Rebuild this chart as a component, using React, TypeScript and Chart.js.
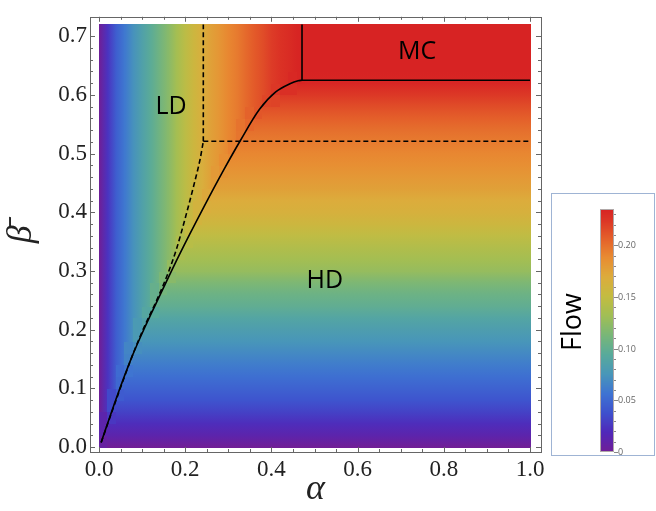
import React, { useEffect, useRef } from "react";
import { Chart, registerables } from "chart.js";

Chart.register(...registerables);

// ---- data ----
const alphaGrid = [0, 0.02, 0.04, 0.06, 0.08, 0.1, 0.12, 0.14, 0.16, 0.18, 0.2, 0.22, 0.24, 0.26, 0.28, 0.3, 0.32, 0.34, 0.36, 0.38, 0.4, 0.42, 0.44, 0.46, 0.48, 0.5, 1.0];
const flowLD = [0, 0.024, 0.045, 0.059, 0.073, 0.085, 0.096, 0.108, 0.12, 0.134, 0.146, 0.157, 0.167, 0.176, 0.183, 0.19, 0.195, 0.202, 0.209, 0.214, 0.221, 0.226, 0.23, 0.234, 0.235, 0.235, 0.235];

const betaGrid = [0, 0.02, 0.04, 0.06, 0.08, 0.1, 0.12, 0.14, 0.16, 0.18, 0.2, 0.22, 0.24, 0.26, 0.28, 0.3, 0.32, 0.34, 0.36, 0.38, 0.4, 0.42, 0.44, 0.46, 0.48, 0.5, 0.52, 0.54, 0.56, 0.58, 0.6, 0.62, 0.64, 0.66, 0.68, 0.7, 0.72];
const flowHD = [0, 0.012, 0.021, 0.031, 0.04, 0.047, 0.054, 0.061, 0.068, 0.075, 0.082, 0.089, 0.099, 0.106, 0.115, 0.127, 0.134, 0.141, 0.148, 0.157, 0.165, 0.169, 0.176, 0.181, 0.186, 0.19, 0.195, 0.2, 0.207, 0.214, 0.223, 0.233, 0.235, 0.235, 0.235, 0.235, 0.235];

const xTicks = [0, 0.2, 0.4, 0.6, 0.8, 1.0];
const yTicks = [0, 0.1, 0.2, 0.3, 0.4, 0.5, 0.6, 0.7];

const solidAlpha = [0.005, 0.04, 0.077, 0.11, 0.139, 0.186, 0.244, 0.29, 0.327, 0.372, 0.41, 0.443, 0.462, 0.471];
const solidBeta = [0.008, 0.083, 0.155, 0.21, 0.255, 0.327, 0.41, 0.473, 0.521, 0.575, 0.605, 0.619, 0.624, 0.625];

const dashAlpha = [0.005, 0.04, 0.077, 0.105, 0.135, 0.16, 0.18, 0.2, 0.22, 0.235, 0.242];
const dashBeta = [0.008, 0.081, 0.155, 0.205, 0.252, 0.296, 0.338, 0.39, 0.446, 0.492, 0.521];

const dashVAlpha = [0.242, 0.242];
const dashVBeta = [0.521, 0.72];

const dashHAlpha = [0.242, 1.0];
const dashHBeta = [0.521, 0.521];

const mcAlpha = [0.471, 0.471, 1.0];
const mcBeta = [0.72, 0.625, 0.625];

const regionNames = ["LD", "MC", "HD"];
const regionAlpha = [0.167, 0.738, 0.524];
const regionBeta = [0.58, 0.673, 0.284];

const FLOW_MAX = 0.235;
const cbTicks = [0, 0.05, 0.1, 0.15, 0.2];
const cbTickLabels = ["0", "0.05", "0.10", "0.15", "0.20"];

// ---- styling ----
const CMAP: number[][] = [
  [0.0, 112, 30, 150],
  [0.08, 80, 40, 185],
  [0.16, 62, 80, 205],
  [0.24, 62, 115, 210],
  [0.32, 72, 150, 185],
  [0.4, 88, 170, 155],
  [0.48, 120, 182, 120],
  [0.56, 160, 190, 85],
  [0.64, 195, 188, 65],
  [0.72, 220, 172, 60],
  [0.8, 232, 140, 50],
  [0.88, 228, 95, 42],
  [0.95, 220, 55, 38],
  [1.0, 215, 35, 35],
];

function colorOf(v: number): string {
  const t = Math.max(0, Math.min(1, v / FLOW_MAX));
  for (let i = 0; i < CMAP.length - 1; i++) {
    const a = CMAP[i], b = CMAP[i + 1];
    if (t <= b[0]) {
      const u = (t - a[0]) / (b[0] - a[0]);
      const r = Math.round(a[1] + (b[1] - a[1]) * u);
      const g = Math.round(a[2] + (b[2] - a[2]) * u);
      const bl = Math.round(a[3] + (b[3] - a[3]) * u);
      return `rgb(${r},${g},${bl})`;
    }
  }
  const l = CMAP[CMAP.length - 1];
  return `rgb(${l[1]},${l[2]},${l[3]})`;
}

const SERIF = '"Liberation Serif", "Times New Roman", serif';
const SANS = '"Open Sans", "Noto Sans", sans-serif';

const bgPlugin = {
  id: "bg",
  beforeDraw(chart: any) {
    const ctx = chart.ctx;
    ctx.save();
    ctx.fillStyle = "#fff";
    ctx.fillRect(0, 0, chart.width, chart.height);
    ctx.restore();
  },
};

const heatmapPlugin = {
  id: "heatmap",
  beforeDatasetsDraw(chart: any) {
    const { ctx, chartArea, scales } = chart;
    const xs = scales.x, ys = scales.y;
    ctx.save();
    ctx.beginPath();
    ctx.rect(chartArea.left, chartArea.top, chartArea.right - chartArea.left, chartArea.bottom - chartArea.top);
    ctx.clip();
    for (let i = 0; i < alphaGrid.length - 1; i++) {
      const px0 = xs.getPixelForValue(alphaGrid[i]);
      const px1 = xs.getPixelForValue(alphaGrid[i + 1]);
      const fa = flowLD[i], fb = flowLD[i + 1];
      for (let j = 0; j < betaGrid.length - 1; j++) {
        const py0 = ys.getPixelForValue(betaGrid[j]);
        const py1 = ys.getPixelForValue(betaGrid[j + 1]);
        const ga = flowHD[j], gb = flowHD[j + 1];
        let fill: any;
        if (Math.max(fa, fb) <= Math.min(ga, gb)) {
          const gr = ctx.createLinearGradient(px0, 0, px1, 0);
          gr.addColorStop(0, colorOf(fa));
          gr.addColorStop(1, colorOf(fb));
          fill = gr;
        } else if (Math.max(ga, gb) <= Math.min(fa, fb)) {
          const gr = ctx.createLinearGradient(0, py0, 0, py1);
          gr.addColorStop(0, colorOf(ga));
          gr.addColorStop(1, colorOf(gb));
          fill = gr;
        } else {
          fill = colorOf(Math.min((fa + fb) / 2, (ga + gb) / 2));
        }
        const rx = Math.floor(px0), rx2 = Math.ceil(px1);
        const ry = Math.floor(py1), ry2 = Math.ceil(py0);
        ctx.fillStyle = fill;
        ctx.fillRect(rx, ry, rx2 - rx, ry2 - ry);
      }
    }
    ctx.restore();
  },
};

function subdivide(ticks: number[], n: number): number[] {
  const out: number[] = [];
  for (let i = 0; i < ticks.length - 1; i++) {
    const step = (ticks[i + 1] - ticks[i]) / n;
    for (let k = 1; k < n; k++) out.push(ticks[i] + step * k);
  }
  return out;
}

const framePlugin = {
  id: "frame",
  afterDatasetsDraw(chart: any) {
    const { ctx, chartArea, scales } = chart;
    const xs = scales.x, ys = scales.y;
    const { left, right, top, bottom } = chartArea;
    ctx.save();
    ctx.strokeStyle = "#666";
    ctx.lineWidth = 1;
    ctx.strokeRect(Math.round(left) + 0.5, Math.round(top) + 0.5, Math.round(right - left), Math.round(bottom - top));
    const drawX = (v: number, len: number) => {
      const p = Math.round(xs.getPixelForValue(v)) + 0.5;
      ctx.beginPath();
      ctx.moveTo(p, bottom);
      ctx.lineTo(p, bottom - len);
      ctx.moveTo(p, top);
      ctx.lineTo(p, top + len);
      ctx.stroke();
    };
    const drawY = (v: number, len: number) => {
      const p = Math.round(ys.getPixelForValue(v)) + 0.5;
      ctx.beginPath();
      ctx.moveTo(left, p);
      ctx.lineTo(left + len, p);
      ctx.moveTo(right, p);
      ctx.lineTo(right - len, p);
      ctx.stroke();
    };
    xTicks.forEach((v) => drawX(v, 5));
    subdivide(xTicks, 4).forEach((v) => drawX(v, 3));
    yTicks.forEach((v) => drawY(v, 5));
    subdivide(yTicks, 5).forEach((v) => drawY(v, 3));

    // region labels
    ctx.fillStyle = "#000";
    ctx.font = `25px ${SANS}`;
    ctx.textAlign = "center";
    ctx.textBaseline = "middle";
    regionNames.forEach((n, i) => {
      ctx.fillText(n, xs.getPixelForValue(regionAlpha[i]), ys.getPixelForValue(regionBeta[i]));
    });
    ctx.restore();
  },
};

const colorbarPlugin = {
  id: "colorbar",
  afterDraw(chart: any) {
    const ctx = chart.ctx;
    const boxL = 551, boxT = 193, boxR = 655, boxB = 455;
    const barL = 600, barR = 614, barT = 209, barB = 452;
    ctx.save();
    ctx.strokeStyle = "#9fb4d4";
    ctx.lineWidth = 1;
    ctx.strokeRect(boxL + 0.5, boxT + 0.5, boxR - boxL - 1, boxB - boxT);
    const valToY = (v: number) => barB - (v / FLOW_MAX) * (barB - barT);
    for (let py = barT; py < barB; py++) {
      const v = ((barB - py - 0.5) / (barB - barT)) * FLOW_MAX;
      ctx.fillStyle = colorOf(v);
      ctx.fillRect(barL, py, barR - barL, 1);
    }
    ctx.strokeStyle = "#b0a8a8";
    ctx.strokeRect(barL + 0.5, barT + 0.5, barR - barL - 1, barB - barT - 1);
    ctx.strokeStyle = "#888";
    ctx.fillStyle = "#666";
    ctx.font = `9px ${SANS}`;
    ctx.textAlign = "left";
    ctx.textBaseline = "middle";
    cbTicks.forEach((v, i) => {
      const py = Math.round(valToY(v)) + 0.5;
      ctx.beginPath();
      ctx.moveTo(barR, py);
      ctx.lineTo(barR + 4, py);
      ctx.stroke();
      ctx.fillText(cbTickLabels[i], barR + 4, py);
    });
    subdivide([...cbTicks, 0.25], 5).forEach((v) => {
      if (v > FLOW_MAX) return;
      const py = Math.round(valToY(v)) + 0.5;
      ctx.beginPath();
      ctx.moveTo(barR, py);
      ctx.lineTo(barR + 2, py);
      ctx.stroke();
    });
    // title
    ctx.translate(573, 322);
    ctx.rotate(-Math.PI / 2);
    ctx.fillStyle = "#000";
    ctx.font = `27px ${SANS}`;
    ctx.textAlign = "center";
    ctx.textBaseline = "middle";
    ctx.fillText("Flow", 0, 0);
    ctx.restore();
  },
};

function line(ax: number[], bx: number[], dash: number[], smooth: boolean) {
  return {
    data: ax.map((a, i) => ({ x: a, y: bx[i] })),
    showLine: true,
    pointRadius: 0,
    borderColor: "#000",
    borderWidth: 1.6,
    borderDash: dash,
    fill: false,
    tension: 0,
    cubicInterpolationMode: smooth ? "monotone" : "default",
  };
}

export default function App() {
  const ref = useRef<HTMLCanvasElement>(null);
  useEffect(() => {
    const chart = new Chart(ref.current as HTMLCanvasElement, {
      type: "scatter",
      data: {
        datasets: [
          line(solidAlpha, solidBeta, [], true),
          line(dashAlpha, dashBeta, [5, 3], true),
          line(dashVAlpha, dashVBeta, [5, 3], false),
          line(dashHAlpha, dashHBeta, [5, 3], false),
          line(mcAlpha, mcBeta, [], false),
        ] as any,
      },
      options: {
        responsive: false,
        devicePixelRatio: 1,
        animation: false,
        layout: { padding: { top: 5, right: 115, left: 0, bottom: 0 } },
        plugins: { legend: { display: false }, tooltip: { enabled: false } },
        scales: {
          x: {
            type: "linear",
            min: -0.0209,
            max: 1.0255,
            afterFit: (s: any) => {
              s.height = 59;
            },
            afterBuildTicks: (s: any) => {
              s.ticks = xTicks.map((v) => ({ value: v }));
            },
            grid: { display: false, drawTicks: false },
            border: { display: false },
            ticks: {
              callback: (v: any) => Number(v).toFixed(1),
              font: { family: SERIF, size: 23 },
              color: "#222",
              padding: 4,
              maxRotation: 0,
              autoSkip: false,
            },
            title: {
              display: true,
              text: "α",
              font: { family: SERIF, size: 36, style: "italic" },
              color: "#222",
              padding: { top: 0, bottom: 0 },
            },
          },
          y: {
            type: "linear",
            min: -0.0083,
            max: 0.733,
            afterFit: (s: any) => {
              s.width = 90;
            },
            afterBuildTicks: (s: any) => {
              s.ticks = yTicks.map((v) => ({ value: v }));
            },
            grid: { display: false, drawTicks: false },
            border: { display: false },
            ticks: {
              callback: (v: any) => Number(v).toFixed(1),
              font: { family: SERIF, size: 23 },
              color: "#222",
              padding: 3,
              autoSkip: false,
            },
            title: {
              display: true,
              text: "β\u0304",
              font: { family: SERIF, size: 36, style: "italic" },
              color: "#222",
              padding: { top: 0, bottom: 0 },
            },
          },
        },
      } as any,
      plugins: [bgPlugin, heatmapPlugin, framePlugin, colorbarPlugin],
    });
    return () => chart.destroy();
  }, []);
  return (
    <div style={{ position: "fixed", left: 0, top: 0, width: 656, height: 511, background: "#fff" }}>
      <canvas ref={ref} width={656} height={511} style={{ display: "block", width: 656, height: 511 }} />
    </div>
  );
}
